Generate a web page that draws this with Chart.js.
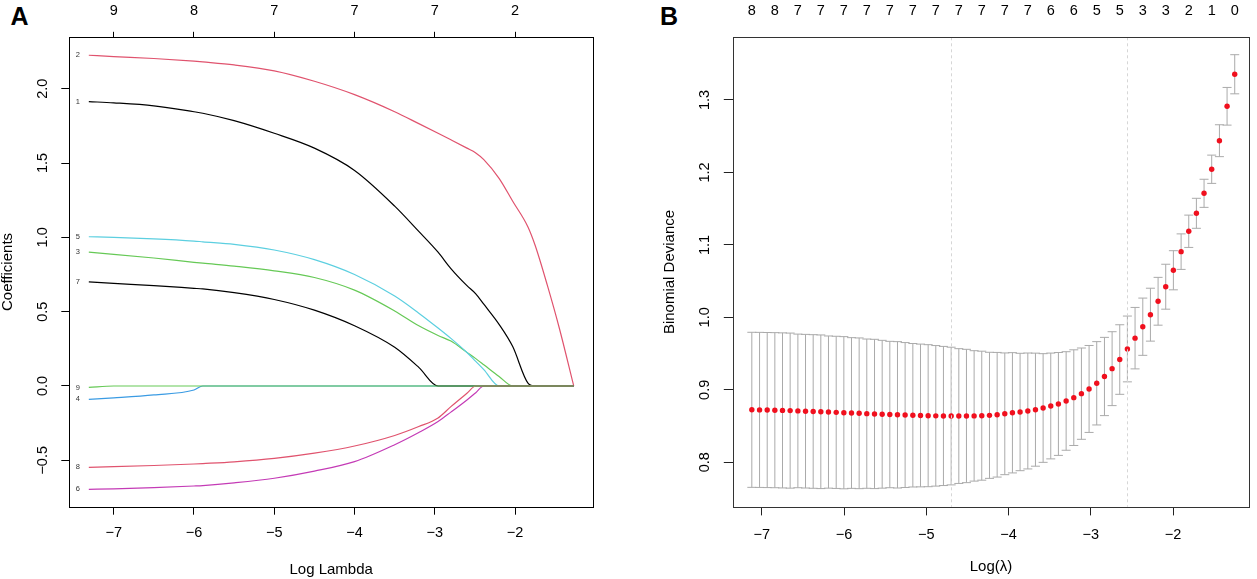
<!DOCTYPE html>
<html>
<head>
<meta charset="utf-8">
<script src="https://cdn.jsdelivr.net/npm/chart.js"></script>
<style>
  html, body { margin: 0; padding: 0; background: #fff; }
  body { width: 1257px; height: 579px; position: relative; overflow: hidden; font-family: "Liberation Sans", Arial, sans-serif; }
  canvas { position: absolute; top: 0; }
  #chartA { left: 0; }
  #chartB { left: 628px; }
  .tag { position: absolute; top: 4px; font-weight: bold; font-size: 25px; line-height: 1; color: #000; }
</style>
</head>
<body>
<div class="tag" style="left:10.5px">A</div>
<div class="tag" style="left:660px">B</div>
<canvas id="chartA" width="628" height="579"></canvas>
<canvas id="chartB" width="629" height="579"></canvas>
<script>
// ---- Panel A: coefficient paths ----
const lambdaA = [-7.31, -7.0, -6.5, -6.0, -5.89, -5.5, -5.0, -4.5, -4.0, -3.5, -3.2, -2.96, -2.8, -2.6, -2.49, -2.39, -2.2, -2.03, -1.84, -1.75, -1.6, -1.45, -1.27];
const coef1 = [1.913, 1.905, 1.885, 1.845, 1.835, 1.785, 1.70, 1.60, 1.45, 1.21, 1.04, 0.90, 0.79, 0.675, 0.62, 0.55, 0.415, 0.265, 0.02, 0, 0, 0, 0];
const coef2 = [2.225, 2.216, 2.203, 2.185, 2.18, 2.16, 2.12, 2.05, 1.96, 1.845, 1.765, 1.70, 1.656, 1.60, 1.568, 1.523, 1.397, 1.243, 1.07, 0.945, 0.68, 0.39, 0];
const coef3 = [0.90, 0.886, 0.861, 0.832, 0.826, 0.806, 0.775, 0.73, 0.645, 0.505, 0.405, 0.34, 0.302, 0.226, 0.184, 0.143, 0.064, 0, 0, 0, 0, 0, 0];
const coef4 = [-0.09, -0.08, -0.06, -0.027, 0, 0, 0, 0, 0, 0, 0, 0, 0, 0, 0, 0, 0, 0, 0, 0, 0, 0, 0];
const coef5 = [1.004, 1.0, 0.99, 0.975, 0.97, 0.953, 0.915, 0.85, 0.75, 0.605, 0.49, 0.39, 0.32, 0.225, 0.165, 0.11, 0, 0, 0, 0, 0, 0, 0];
const coef6 = [-0.695, -0.692, -0.684, -0.673, -0.670, -0.652, -0.621, -0.573, -0.509, -0.395, -0.313, -0.239, -0.176, -0.094, -0.045, 0, 0, 0, 0, 0, 0, 0, 0];
const coef7 = [0.70, 0.69, 0.675, 0.657, 0.653, 0.628, 0.582, 0.51, 0.405, 0.26, 0.125, 0, 0, 0, 0, 0, 0, 0, 0, 0, 0, 0, 0];
const coef8 = [-0.547, -0.543, -0.535, -0.525, -0.522, -0.510, -0.487, -0.452, -0.404, -0.333, -0.273, -0.215, -0.139, -0.049, 0, 0, 0, 0, 0, 0, 0, 0, 0];
const coef9 = [-0.01, 0, 0, 0, 0, 0, 0, 0, 0, 0, 0, 0, 0, 0, 0, 0, 0, 0, 0, 0, 0, 0, 0];
const coefPaths = [coef1, coef2, coef3, coef4, coef5, coef6, coef7, coef8, coef9];
const pathColors = ['#000000', '#E0536E', '#66C956', '#3A9BE3', '#5CCFE0', '#C43BB6', '#000000', '#E0536E', '#66C956'];
const ticksA = [-7, -6, -5, -4, -3, -2];
const dfA = ['9', '8', '7', '7', '7', '2'];
const yTicksA = [-0.5, 0, 0.5, 1.0, 1.5, 2.0];

// ---- Panel B: cross-validated binomial deviance ----
const lambdaB = [-7.122, -7.028, -6.935, -6.842, -6.749, -6.656, -6.562, -6.469, -6.376, -6.283, -6.190, -6.096, -6.003, -5.910, -5.817, -5.724,
  -5.630, -5.537, -5.444, -5.351, -5.258, -5.164, -5.071, -4.978, -4.885, -4.792, -4.698, -4.605, -4.512, -4.419, -4.326, -4.232,
  -4.139, -4.046, -3.953, -3.860, -3.766, -3.673, -3.580, -3.487, -3.394, -3.300, -3.207, -3.114, -3.021, -2.928, -2.834, -2.741,
  -2.648, -2.555, -2.462, -2.368, -2.275, -2.182, -2.089, -1.996, -1.902, -1.809, -1.716, -1.623, -1.530, -1.436, -1.343, -1.250];
const devB = [0.8724, 0.8723, 0.8721, 0.8719, 0.8716, 0.8713, 0.8709, 0.8705, 0.8701, 0.8697, 0.8693, 0.8689, 0.8684, 0.8680, 0.8676, 0.8671,
  0.8667, 0.8663, 0.8659, 0.8655, 0.8652, 0.8649, 0.8646, 0.8643, 0.8641, 0.8639, 0.8638, 0.8638, 0.8639, 0.8640, 0.8643, 0.8648,
  0.8656, 0.8669, 0.8683, 0.8694, 0.8708, 0.8726, 0.8749, 0.8777, 0.8805, 0.8846, 0.8892, 0.8947, 0.9012, 0.9090, 0.9184, 0.9292,
  0.9418, 0.9564, 0.9713, 0.9871, 1.0037, 1.0222, 1.0423, 1.0650, 1.0907, 1.1188, 1.1436, 1.1712, 1.2044, 1.2438, 1.2913, 1.3355];
const sdB = [0.107, 0.107, 0.107, 0.107, 0.107, 0.107, 0.106, 0.106, 0.106, 0.106, 0.105, 0.105, 0.105, 0.104, 0.104, 0.103,
  0.103, 0.102, 0.101, 0.101, 0.100, 0.099, 0.0985, 0.098, 0.097, 0.096, 0.095, 0.093, 0.092, 0.090, 0.089, 0.087,
  0.086, 0.084, 0.083, 0.081, 0.080, 0.078, 0.075, 0.073, 0.071, 0.068, 0.066, 0.063, 0.060, 0.0575, 0.054, 0.051,
  0.048, 0.0454, 0.0424, 0.0395, 0.0365, 0.033, 0.031, 0.027, 0.0245, 0.0223, 0.0207, 0.0194, 0.0195, 0.022, 0.026, 0.027];
const nzeroShownB = ['8', '8', '7', '7', '7', '7', '7', '7', '7', '7', '7', '7', '7', '6', '6', '5', '5', '3', '3', '2', '1', '0'];
const lambdaMinLog = -4.70;
const lambda1seLog = -2.56;
const ticksB = [-7, -6, -5, -4, -3, -2];
const yTicksB = [0.8, 0.9, 1.0, 1.1, 1.2, 1.3];

Chart.defaults.font.family = '"Liberation Sans", Arial, sans-serif';
Chart.defaults.color = '#000';

const fmt = (v, d) => (v < 0 ? '\u2212' : '') + Math.abs(v).toFixed(d);
const tickFont = { size: 14.5, lineHeight: 1.2 };

// box round the plot region
const frame = color => ({
  id: 'frame',
  afterDraw(chart) {
    const { ctx, chartArea: a } = chart;
    ctx.save();
    ctx.strokeStyle = color;
    ctx.lineWidth = 1;
    ctx.strokeRect(Math.round(a.left) + 0.5, Math.round(a.top) + 0.5,
      Math.round(a.right) - Math.round(a.left), Math.round(a.bottom) - Math.round(a.top));
    ctx.restore();
  }
});

// small variable numbers at the left end of each path
const pathLabels = {
  id: 'pathLabels',
  afterDatasetsDraw(chart) {
    const { ctx, scales: { x, y } } = chart;
    ctx.save();
    ctx.font = '7.5px "Liberation Sans", Arial, sans-serif';
    ctx.fillStyle = '#333';
    ctx.textAlign = 'center';
    ctx.textBaseline = 'middle';
    coefPaths.forEach((path, i) => {
      ctx.fillText(String(i + 1), x.getPixelForValue(lambdaA[0]) - 11, y.getPixelForValue(path[0]));
    });
    ctx.restore();
  }
};

// CV error bars (mean +/- sd)
const errorBars = {
  id: 'errorBars',
  beforeDatasetsDraw(chart) {
    const { ctx, scales: { x, y } } = chart;
    ctx.save();
    ctx.strokeStyle = '#AAAAAA';
    ctx.lineWidth = 1;
    ctx.beginPath();
    lambdaB.forEach((l, i) => {
      const px = x.getPixelForValue(l);
      const hi = y.getPixelForValue(devB[i] + sdB[i]);
      const lo = y.getPixelForValue(devB[i] - sdB[i]);
      ctx.moveTo(px, hi); ctx.lineTo(px, lo);
      ctx.moveTo(px - 4.5, hi); ctx.lineTo(px + 4.5, hi);
      ctx.moveTo(px - 4.5, lo); ctx.lineTo(px + 4.5, lo);
    });
    ctx.stroke();
    ctx.restore();
  }
};

// dotted lines at lambda.min and lambda.1se
const lambdaLines = {
  id: 'lambdaLines',
  afterDatasetsDraw(chart) {
    const { ctx, chartArea: a, scales: { x } } = chart;
    ctx.save();
    ctx.strokeStyle = '#D6D6D6';
    ctx.lineWidth = 1;
    ctx.setLineDash([3, 3]);
    [lambdaMinLog, lambda1seLog].forEach(v => {
      const px = Math.round(x.getPixelForValue(v)) + 0.5;
      ctx.beginPath();
      ctx.moveTo(px, a.top);
      ctx.lineTo(px, a.bottom);
      ctx.stroke();
    });
    ctx.restore();
  }
};

// 1. Coefficient paths
new Chart(document.getElementById('chartA'), {
  type: 'line',
  data: {
    datasets: coefPaths.map((path, i) => ({
      label: String(i + 1),
      data: lambdaA.map((l, j) => ({ x: l, y: path[j] })),
      borderColor: pathColors[i],
      borderWidth: 1.2,
      pointRadius: 0,
      cubicInterpolationMode: 'monotone',
      order: coefPaths.length - i
    }))
  },
  options: {
    responsive: false,
    animation: false,
    layout: { padding: { left: 0, right: 35, top: 0, bottom: 0 } },
    plugins: { legend: { display: false }, tooltip: { enabled: false } },
    scales: {
      x: {
        type: 'linear', position: 'bottom', min: -7.553, max: -1.030,
        afterBuildTicks: s => { s.ticks = ticksA.map(v => ({ value: v })); },
        afterFit: s => { s.height = 72.3; },
        ticks: { font: tickFont, padding: 10, autoSkip: false, maxRotation: 0, callback: v => fmt(v, 0) },
        grid: { drawOnChartArea: false, tickLength: 8, tickColor: '#000', tickWidth: 1 },
        border: { display: false },
        title: { display: true, text: 'Log Lambda', font: { size: 15, lineHeight: 1 }, padding: { top: 0, bottom: 1.5 } }
      },
      x2: {
        type: 'linear', axis: 'x', position: 'top', min: -7.553, max: -1.030,
        afterBuildTicks: s => { s.ticks = ticksA.map(v => ({ value: v })); },
        afterFit: s => { s.height = 37.3; },
        ticks: { font: tickFont, padding: 12.6, autoSkip: false, maxRotation: 0, callback: (v, i) => dfA[i] },
        grid: { drawOnChartArea: false, tickLength: 5.5, tickColor: '#000', tickWidth: 1 },
        border: { display: false }
      },
      y: {
        type: 'linear', position: 'left', min: -0.8122, max: 2.3458,
        afterBuildTicks: s => { s.ticks = yTicksA.map(v => ({ value: v })); },
        afterFit: s => { s.width = 69.3; },
        ticks: { font: tickFont, padding: 4.2, crossAlign: 'center', minRotation: 90, maxRotation: 90, autoSkip: false, callback: v => fmt(v, 1) },
        grid: { drawOnChartArea: false, tickLength: 8, tickColor: '#000', tickWidth: 1 },
        border: { display: false },
        title: { display: true, text: 'Coefficients', font: { size: 15, lineHeight: 1 }, padding: { top: 0, bottom: 0 } }
      }
    }
  },
  plugins: [pathLabels, frame('#000')]
});

// 2. Cross-validation curve
new Chart(document.getElementById('chartB'), {
  type: 'scatter',
  data: {
    datasets: [{
      label: 'Binomial Deviance',
      data: lambdaB.map((l, i) => ({ x: l, y: devB[i] })),
      backgroundColor: '#F0101E',
      borderWidth: 0,
      pointRadius: 2.7,
      pointHoverRadius: 2.7
    }]
  },
  options: {
    responsive: false,
    animation: false,
    layout: { padding: { left: 30, right: 5, top: 0, bottom: 0 } },
    plugins: { legend: { display: false }, tooltip: { enabled: false } },
    scales: {
      x: {
        type: 'linear', position: 'bottom', min: -7.357, max: -1.071,
        afterBuildTicks: s => { s.ticks = ticksB.map(v => ({ value: v })); },
        afterFit: s => { s.height = 72.3; },
        ticks: { font: tickFont, padding: 10.8, autoSkip: false, maxRotation: 0, callback: v => fmt(v, 0) },
        grid: { drawOnChartArea: false, tickLength: 8.7, tickColor: '#222', tickWidth: 1 },
        border: { display: false },
        title: { display: true, text: 'Log(\u03BB)', font: { size: 15, lineHeight: 1 }, padding: { top: 0, bottom: 4.5 } }
      },
      x2: {
        type: 'linear', axis: 'x', position: 'top', min: -7.357, max: -1.071,
        afterBuildTicks: s => { s.ticks = lambdaB.filter((v, i) => i % 3 === 0).map(v => ({ value: v })); },
        afterFit: s => { s.height = 37.3; },
        ticks: { font: tickFont, padding: 18.1, autoSkip: false, maxRotation: 0, callback: (v, i) => nzeroShownB[i] },
        grid: { display: false, drawTicks: false },
        border: { display: false }
      },
      y: {
        type: 'linear', position: 'left', min: 0.7387, max: 1.3865,
        afterBuildTicks: s => { s.ticks = yTicksB.map(v => ({ value: v })); },
        afterFit: s => { s.width = 74.5; },
        ticks: { font: tickFont, padding: 8.7, crossAlign: 'center', minRotation: 90, maxRotation: 90, autoSkip: false, callback: v => fmt(v, 1) },
        grid: { drawOnChartArea: false, tickLength: 8.7, tickColor: '#222', tickWidth: 1 },
        border: { display: false },
        title: { display: true, text: 'Binomial Deviance', font: { size: 15, lineHeight: 1 }, padding: { top: 4, bottom: 0 } }
      }
    }
  },
  plugins: [errorBars, lambdaLines, frame('#333')]
});
</script>
</body>
</html>
